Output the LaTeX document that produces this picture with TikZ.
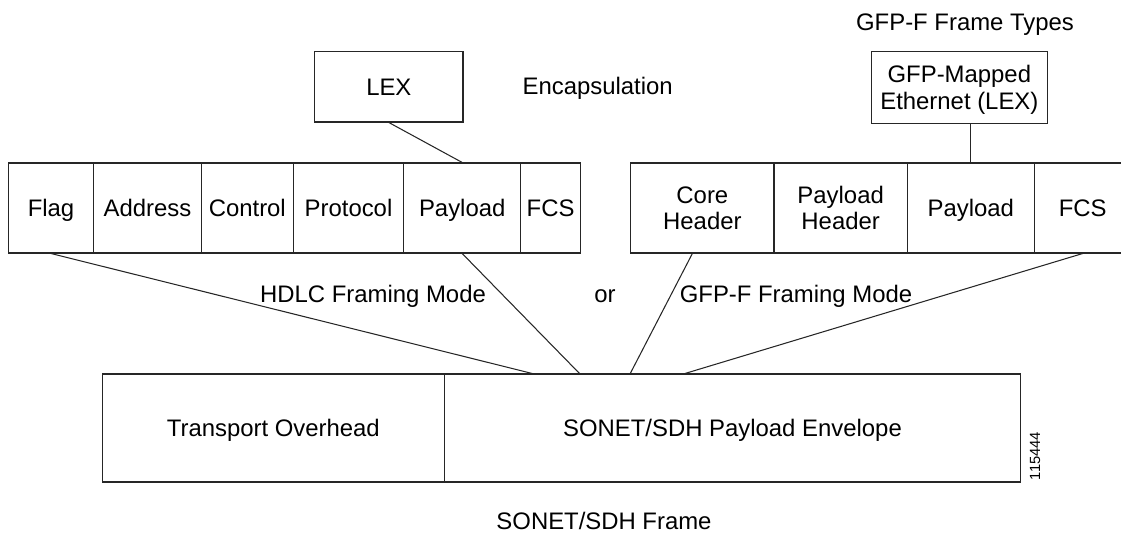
\documentclass[tikz,border=0pt]{standalone}
\usepackage{fontspec}
\setmainfont{Liberation Sans}
\newcommand{\framefont}{\fontsize{13.6}{15.2}\selectfont}
\newcommand{\tagfont}{\fontsize{8.4}{10}\selectfont}

\begin{document}
\begin{tikzpicture}
[x=0.02cm,y=-0.02cm,
  celldecorate/.style={shape=rectangle,draw=black!85,line width=0.6pt,inner sep=0pt,
    align=center,font=\framefont,text height=9.6pt,text depth=0pt},
  twolinedecorate/.style={text height=24.8pt},
  linedecorate/.style={draw=black!85,line width=0.6pt},
  textdecorate/.style={inner sep=0pt,font=\framefont}]
\useasboundingbox (0,0) rectangle (1121,533);
%% HDLC frame cells
\foreach \nodename/\cellname/\l/\r in {flag/Flag/8.3/93.7, address/Address/93.7/201.3,
  control/Control/201.3/293.3, protocol/Protocol/293.3/403.7,
  payload/Payload/403.7/520.7, fcs/FCS/520.7/580.5}
{
  \pgfmathsetmacro{\cellwd}{(\r-\l)*0.02}
  \node (\nodename) at ({(\l+\r)/2},208) [celldecorate,minimum width=\cellwd cm,minimum height=1.8cm] {\cellname};
}
%% GFP-F frame cells
\foreach \nodename/\cellname/\cellht/\l/\r in {core/Core\\Header/24.8pt/630.7/774,
  pheader/Payload\\Header/24.8pt/774/907.3,
  gpayload/Payload/9.6pt/907.3/1034.3, gfcs/FCS/9.6pt/1034.3/1131}
{
  \pgfmathsetmacro{\cellwd}{(\r-\l)*0.02}
  \node (\nodename) at ({(\l+\r)/2},208) [celldecorate,text height=\cellht,minimum width=\cellwd cm,minimum height=1.8cm] {\cellname};
}
%% SONET/SDH frame
\node (overhead) at (273.3,428) [celldecorate,minimum width=6.84cm,minimum height=2.16cm] {Transport Overhead};
\node (envelope) at (732.5,428) [celldecorate,minimum width=11.528cm,minimum height=2.16cm] {SONET/SDH Payload Envelope};
%% encapsulation boxes
\node (lex) at (388.85,86.85) [celldecorate,minimum width=2.966cm,minimum height=1.406cm] {LEX};
\node (gfpeth) at (959.35,87.5) [celldecorate,twolinedecorate,minimum width=3.534cm,minimum height=1.432cm] {GFP-Mapped\\Ethernet (LEX)};
%% labels
\node (encap) at (522.3,95) [textdecorate,anchor=base west] {Encapsulation};
\node (types) at (965,30.7) [textdecorate,anchor=base] {GFP-F Frame Types};
\node (hdlcmode) at (373,302) [textdecorate,anchor=base] {HDLC Framing Mode};
\node (ortext) at (605,302) [textdecorate,anchor=base] {or};
\node (gfpmode) at (796,302) [textdecorate,anchor=base] {GFP-F Framing Mode};
\node (sonetframe) at (604,529.5) [textdecorate,anchor=base] {SONET/SDH Frame};
\node (figid) at (1035,456) [inner sep=0pt,font=\tagfont,rotate=90] {115444};
%% joins on the envelope
\foreach \joinname/\x in {j1/534.3, j2/580, j3/630, j4/683.3}
  \coordinate (\joinname) at (\x,374);
%% edges or lines
\draw[linedecorate] (lex.south) -- (payload.north);
\draw[linedecorate] (gfpeth.south -| gpayload.north) -- (gpayload.north);
\draw[linedecorate] (flag.south) -- (j1);
\draw[linedecorate] (payload.south) -- (j2);
\draw[linedecorate] ([xshift=-0.2cm]core.south) -- (j3);
\draw[linedecorate] (gfcs.south) -- (j4);
\end{tikzpicture}
\end{document}
